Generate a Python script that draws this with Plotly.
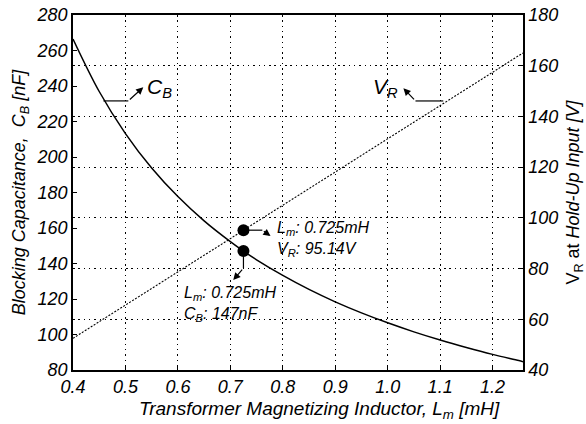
import plotly.graph_objects as go

# ---- data ----
lm = [0.40, 0.45, 0.50, 0.55, 0.60, 0.65, 0.70, 0.725, 0.75, 0.80, 0.85,
      0.90, 0.95, 1.00, 1.05, 1.10, 1.15, 1.20, 1.25, 1.258]
cb = [266.5, 236.9, 213.2, 193.8, 177.7, 164.0, 152.3, 147.0, 142.1, 133.3, 125.4,
      118.4, 112.2, 106.6, 101.5, 96.9, 92.7, 88.8, 85.3, 84.7]
vr = [52.5, 59.0, 65.6, 72.2, 78.7, 85.3, 91.8, 95.14, 98.4, 105.0, 111.5,
      118.1, 124.6, 131.2, 137.8, 144.3, 150.9, 157.4, 164.0, 165.0]

op_lm = 0.725
op_cb = 147
op_vr = 95.14

x_ticks = [0.4, 0.5, 0.6, 0.7, 0.8, 0.9, 1.0, 1.1, 1.2]
x_ticktext = ["0.4", "0.5", "0.6", "0.7", "0.8", "0.9", "1.0", "1.1", "1.2"]
y_ticks = [80, 100, 120, 140, 160, 180, 200, 220, 240, 260, 280]
y2_ticks = [40, 60, 80, 100, 120, 140, 160, 180]

FONT = "Liberation Sans, Arial, sans-serif"
tickf = dict(family=FONT, size=18, color="black")

def it(labels):
    return [f"<i>{t}</i>" for t in labels]

fig = go.Figure()
fig.add_trace(go.Scatter(x=lm, y=cb, mode="lines", line=dict(color="black", width=1.5, shape="spline"),
                         showlegend=False, hoverinfo="skip"))
fig.add_trace(go.Scatter(x=lm, y=vr, mode="lines", yaxis="y2",
                         line=dict(color="black", width=1.1, dash="2px,1.5px"),
                         showlegend=False, hoverinfo="skip"))
fig.add_trace(go.Scatter(x=[op_lm], y=[op_cb], mode="markers",
                         marker=dict(color="black", size=12), showlegend=False))
fig.add_trace(go.Scatter(x=[op_lm], y=[op_vr], mode="markers", yaxis="y2",
                         marker=dict(color="black", size=12), showlegend=False))

line = dict(color="black", width=1.2)
shapes = [
    dict(type="line", xref="x", yref="y", x0=0.458, y0=231.6, x1=0.5055, y1=231.6, line=line),
    dict(type="line", xref="x", yref="y2", x0=1.106, y0=146.1, x1=1.053, y1=146.1, line=line),
    dict(type="line", xref="x", yref="y2", x0=op_lm, y0=op_vr, x1=0.761, y1=op_vr, line=line),
    dict(type="line", xref="x", yref="y", x0=op_lm, y0=op_cb, x1=op_lm, y1=137.4, line=line),
]

def arrow(x, y, ax, ay, yref):
    return dict(x=x, y=y, ax=ax, ay=ay, xref="x", yref=yref, axref="x", ayref=yref,
                text="", showarrow=True, arrowhead=2, arrowsize=1.2, arrowwidth=1.2,
                arrowcolor="black")

annotations = [
    arrow(0.534, 239.3, 0.5055, 231.6, "y"),
    arrow(1.030, 151.1, 1.053, 146.1, "y2"),
    arrow(0.7766, 92.8, 0.761, op_vr, "y2"),
    arrow(0.7056, 130.7, op_lm, 137.4, "y"),
    dict(x=0.538, y=238.7, xref="x", yref="y", text="<i>C<sub>B</sub></i>", showarrow=False,
         xanchor="left", yanchor="middle",
         font=dict(family=FONT, size=21, color="black")),
    dict(x=1.024, y=151.1, xref="x", yref="y2", text="<i>V<sub>R</sub></i>", showarrow=False,
         xanchor="right", yanchor="middle",
         font=dict(family=FONT, size=21, color="black")),
    dict(x=0.786, y=91.8, xref="x", yref="y2",
         text=f"<i>L<sub>m</sub>: {op_lm}mH<br>V<sub>R</sub>: {op_vr}V</i>", showarrow=False,
         xanchor="left", yanchor="middle", align="left",
         font=dict(family=FONT, size=16, color="black")),
    dict(x=0.6084, y=117.4, xref="x", yref="y",
         text=f"<i>L<sub>m</sub>: {op_lm}mH<br>C<sub>B</sub>: {op_cb}nF</i>", showarrow=False,
         xanchor="left", yanchor="middle", align="left",
         font=dict(family=FONT, size=16, color="black")),
    # x-axis title (offset to the right as in the reference)
    dict(x=0.547, y=-0.114, xref="paper", yref="paper", showarrow=False,
         text="<i>Transformer Magnetizing Inductor, L<sub>m</sub> [mH]</i>",
         xanchor="center", yanchor="middle", font=dict(family=FONT, size=19, color="black")),
]

grid = dict(showgrid=True, gridcolor="black", griddash="1.5px,3.8px", gridwidth=1.1)

fig.update_layout(
    width=586, height=424,
    margin=dict(l=73, r=63, t=15, b=54),
    paper_bgcolor="white", plot_bgcolor="white",
    shapes=shapes, annotations=annotations,
    xaxis=dict(range=[0.4, 1.258], tickvals=x_ticks, ticktext=it(x_ticktext),
               tickfont=tickf, **grid, automargin=False,
               showline=True, linecolor="black", linewidth=1.5, mirror=True,
               ticks="inside", ticklen=4, tickcolor="black", zeroline=False),
    yaxis=dict(range=[80, 280], tickvals=y_ticks, ticktext=it([str(v) for v in y_ticks]),
               tickfont=tickf, showgrid=False, automargin=False,
               showline=True, linecolor="black", linewidth=1.5,
               ticks="inside", ticklen=4, tickcolor="black", zeroline=False,
               title=dict(text="<i>Blocking Capacitance,  C<sub>B</sub> [nF]</i>", font=tickf, standoff=6)),
    yaxis2=dict(range=[40, 180], tickvals=y2_ticks, ticktext=it([str(v) for v in y2_ticks]),
                tickfont=tickf, overlaying="y", side="right", **grid, automargin=False,
                showline=True, linecolor="black", linewidth=1.5,
                ticks="inside", ticklen=4, tickcolor="black", zeroline=False,
                title=dict(text="V<sub>R</sub> at <i>Hold-Up Input [V]</i>",
                           font=tickf, standoff=12)),
)

fig.write_html("out.html")
